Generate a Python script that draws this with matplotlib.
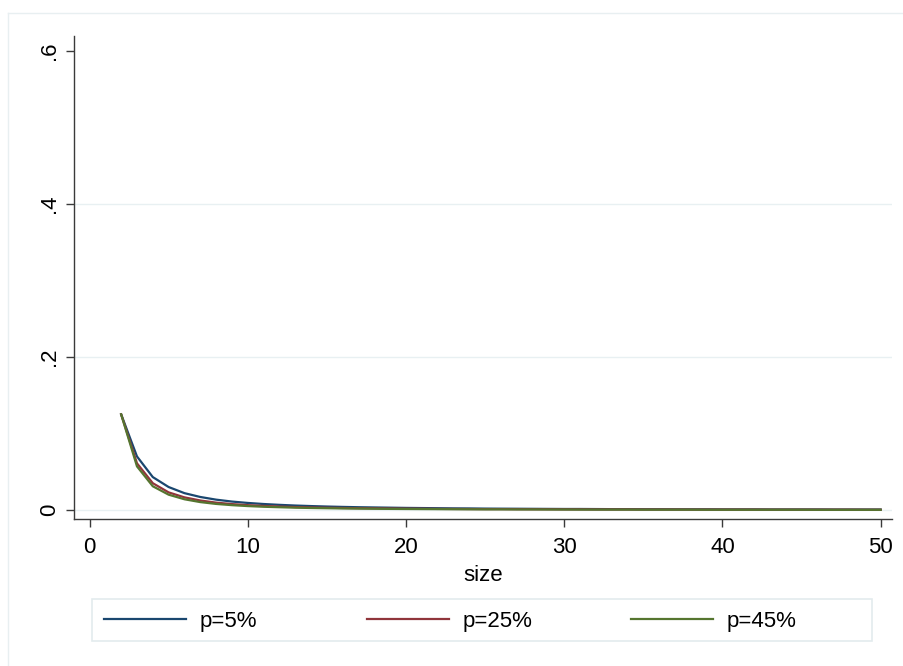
import numpy as np
import matplotlib
matplotlib.use("Agg")
import matplotlib.pyplot as plt
from matplotlib.lines import Line2D

plt.rcParams['font.family'] = ['Liberation Sans', 'DejaVu Sans']

# sample size 2..50
size = list(range(2, 51))

p5 = [0.125, 0.070, 0.043, 0.030, 0.022, 0.017, 0.0135, 0.011, 0.0092, 0.0078,
      0.0067, 0.0058, 0.0051, 0.0045, 0.0040, 0.0036, 0.0033, 0.0030, 0.0027, 0.0025,
      0.0023, 0.0021, 0.0020, 0.0018, 0.0017, 0.0016, 0.0015, 0.0014, 0.0013, 0.0013,
      0.0012, 0.0011, 0.0011, 0.0010, 0.0010, 0.0009, 0.0009, 0.0009, 0.0008, 0.0008,
      0.0008, 0.0007, 0.0007, 0.0007, 0.0007, 0.0006, 0.0006, 0.0006, 0.0006]
p25 = [0.125, 0.061, 0.035, 0.023, 0.0165, 0.0124, 0.0096, 0.0077, 0.0063, 0.0053,
       0.0045, 0.0038, 0.0033, 0.0029, 0.0026, 0.0023, 0.0021, 0.0019, 0.0017, 0.0016,
       0.0014, 0.0013, 0.0012, 0.0011, 0.0011, 0.0010, 0.0009, 0.0009, 0.0008, 0.0008,
       0.0007, 0.0007, 0.0007, 0.0006, 0.0006, 0.0006, 0.0005, 0.0005, 0.0005, 0.0005,
       0.0005, 0.0004, 0.0004, 0.0004, 0.0004, 0.0004, 0.0004, 0.0003, 0.0003]
p45 = [0.125, 0.057, 0.031, 0.020, 0.0140, 0.0103, 0.0079, 0.0063, 0.0051, 0.0042,
       0.0036, 0.0030, 0.0026, 0.0023, 0.0020, 0.0018, 0.0016, 0.0014, 0.0013, 0.0012,
       0.0011, 0.0010, 0.0009, 0.0008, 0.0008, 0.0007, 0.0007, 0.0006, 0.0006, 0.0005,
       0.0005, 0.0005, 0.0005, 0.0004, 0.0004, 0.0004, 0.0004, 0.0003, 0.0003, 0.0003,
       0.0003, 0.0003, 0.0003, 0.0003, 0.0002, 0.0002, 0.0002, 0.0002, 0.0002]

labels = ["p=5%", "p=25%", "p=45%"]
colors = ["#1a476f", "#90353b", "#55752f"]  # stata navy / maroon / forest green

xticks = [0, 10, 20, 30, 40, 50]
yticks = [0, 0.2, 0.4, 0.6]
yticklabels = ["0", ".2", ".4", ".6"]

W, H = 904, 666
fs = 16

fig = plt.figure(figsize=(W/100, H/100), dpi=100)
# faint outer frame (graph region), only top and left edges are in view
fig.add_artist(Line2D([8/W, 8/W], [0, 1 - 13/H], transform=fig.transFigure, color="#e8eff1", lw=1))
fig.add_artist(Line2D([8/W, 1], [1 - 13/H, 1 - 13/H], transform=fig.transFigure, color="#e8eff1", lw=1))

ax = fig.add_axes([74/W, 1 - 519/H, (892 - 74)/W, (519 - 36)/H])
lines = []
for y, c, lab in zip([p5, p25, p45], colors, labels):
    l, = ax.plot(size, y, color=c, linewidth=1.6, label=lab)
    lines.append(l)

ax.set_xlim(-0.98, 50.72)
ax.set_ylim(-0.0118, 0.6196)
ax.set_xticks(xticks)
ax.set_yticks(yticks)
ax.set_yticklabels(yticklabels, rotation=90, va="center")
for g in [0, 0.2, 0.4]:
    ax.axhline(g, color="#e8f0f2", linewidth=1, zorder=0)

for s in ["top", "right"]:
    ax.spines[s].set_visible(False)
for s in ["left", "bottom"]:
    ax.spines[s].set_color("#3a3a3a")
    ax.spines[s].set_linewidth(1)
ax.tick_params(direction="out", length=6, width=1, color="#3a3a3a", labelsize=fs)
ax.tick_params(axis="y", pad=4)
ax.tick_params(axis="x", pad=7)
ax.set_xlabel("size", fontsize=fs, labelpad=5)

# legend box with fixed-width columns like stata
fig.add_artist(plt.Rectangle((92/W, 1 - 641/H), (872 - 92)/W, 42/H, transform=fig.transFigure,
                             fill=False, edgecolor="#e3ebed", lw=1.2))
for l, lab, x0 in zip(lines, labels, [104, 367, 631]):
    fig.legend([l], [lab], loc="center left", bbox_to_anchor=(x0/W, 1 - 621/H),
               frameon=False, fontsize=fs, handlelength=3.7, handletextpad=0.6,
               borderpad=0, borderaxespad=0)

plt.savefig("out.png", dpi=100)
